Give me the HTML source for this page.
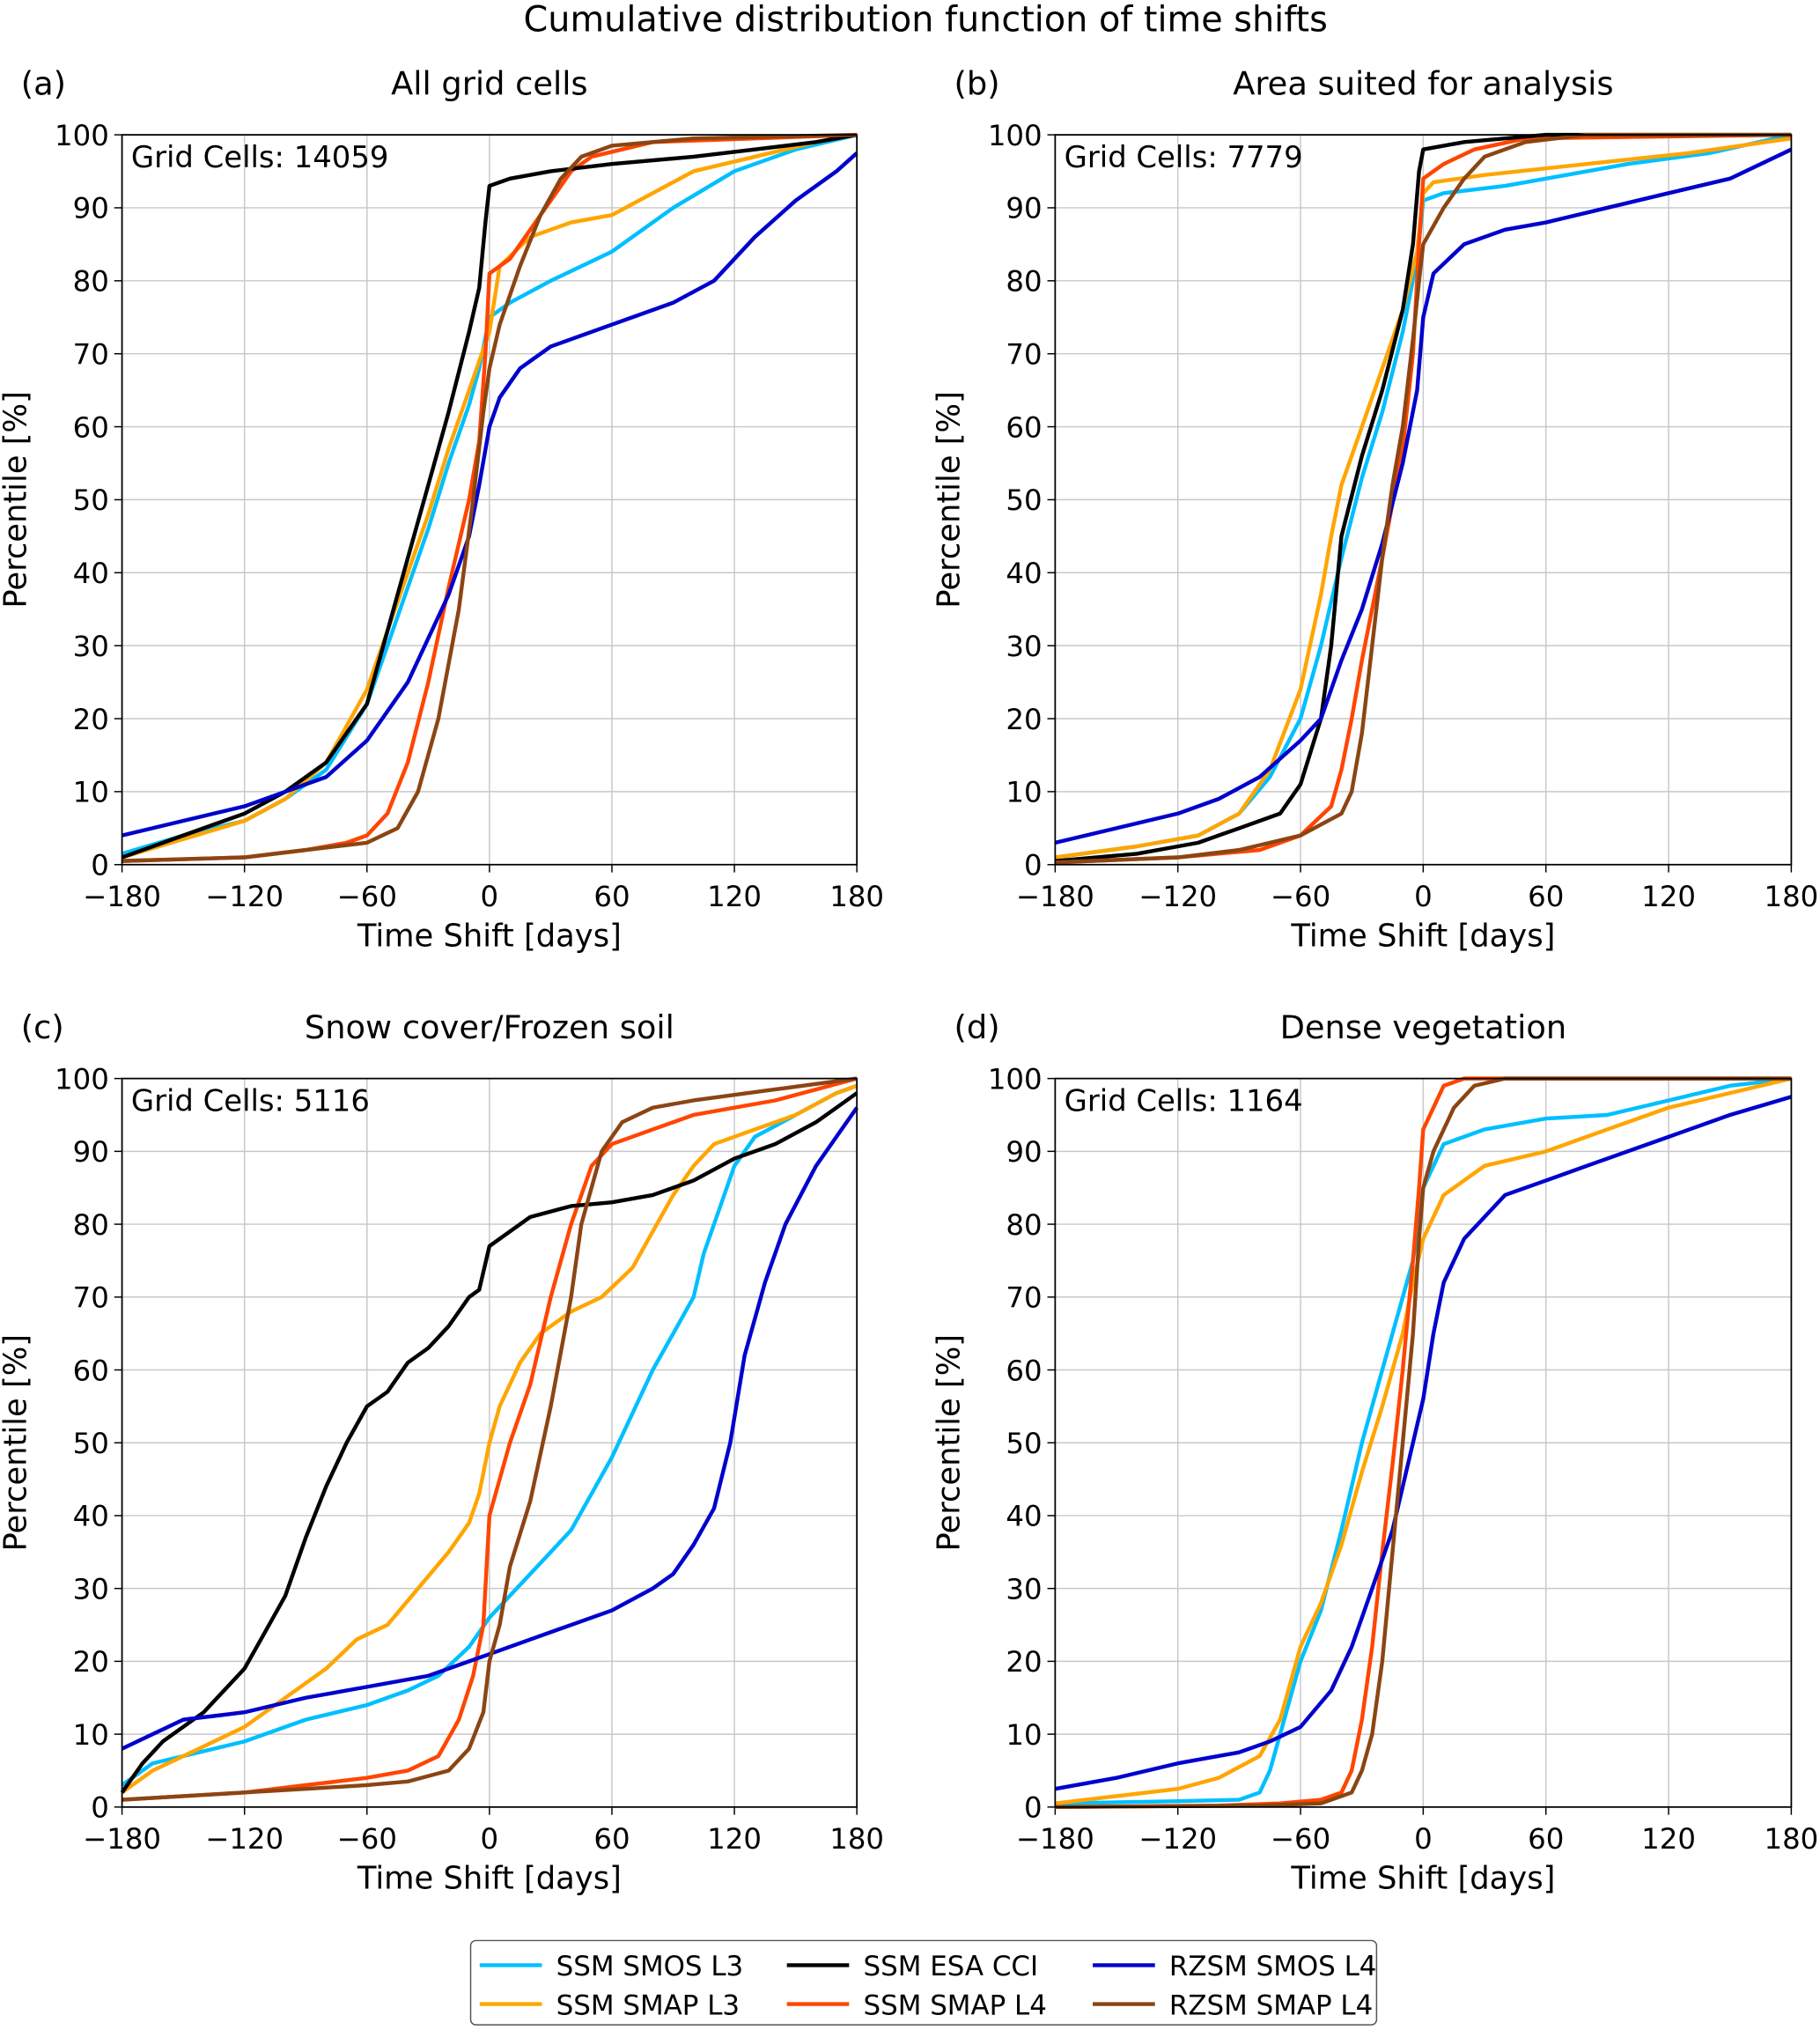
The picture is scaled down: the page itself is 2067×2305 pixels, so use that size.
<!DOCTYPE html>
<html><head><meta charset="utf-8">
<style>
html,body{margin:0;padding:0;background:#fff;}
svg{display:block;font-family:"DejaVu Sans","Liberation Sans",sans-serif;}
</style></head>
<body>
<svg id="fig" xmlns="http://www.w3.org/2000/svg" width="2067" height="2305" viewBox="0 0 1404 1566">
<text x="714" y="24" text-anchor="middle" font-size="27">Cumulative distribution function of time shifts</text>
</svg>
<script>
const xTicks=[-180,-120,-60,0,60,120,180];
const xTickLabels=["\u2212180","\u2212120","\u221260","0","60","120","180"];
const yTicks=[0,10,20,30,40,50,60,70,80,90,100];
const seriesNames=["SSM SMOS L3","SSM SMAP L3","SSM ESA CCI","SSM SMAP L4","RZSM SMOS L4","RZSM SMAP L4"];
const seriesColors=["#00BFFF","#FFA500","#000000","#FF4500","#0000CD","#8B4513"];
const panelLetters=["(a)","(b)","(c)","(d)"];
const panelTitles=["All grid cells","Area suited for analysis","Snow cover/Frozen soil","Dense vegetation"];
const gridCells=[14059,7779,5116,1164];

const aSmosL3=[[-180,1.5],[-150,4],[-120,6],[-100,9],[-80,13],[-60,22],[-50,30],[-40,38],[-30,46],[-20,55],[-10,63],[-5,68],[0,75],[10,77],[30,80],[60,84],[90,90],[120,95],[150,98],[180,100]];
const aSmapL3=[[-180,1],[-150,3.5],[-120,6],[-100,9],[-80,14],[-60,24],[-50,32],[-40,40],[-30,48],[-20,57],[-10,65],[0,73],[5,82],[20,86],[40,88],[60,89],[80,92],[100,95],[130,97],[160,99],[180,100]];
const aEsa=[[-180,1],[-150,4],[-120,7],[-100,10],[-80,14],[-60,22],[-50,32],[-40,42],[-30,52],[-20,62],[-10,73],[-5,79],[-2,88],[0,93],[10,94],[30,95],[60,96],[100,97],[130,98],[160,99],[180,100]];
const aSmapL4=[[-180,0.5],[-120,1],[-90,2],[-70,3],[-60,4],[-50,7],[-40,14],[-30,25],[-20,38],[-10,50],[-5,58],[-2,70],[0,81],[10,83],[20,87],[30,91],[40,95],[50,97],[80,99],[180,100]];
const aRzSmos=[[-180,4],[-150,6],[-120,8],[-100,10],[-80,12],[-60,17],[-40,25],[-20,37],[-10,45],[-5,52],[0,60],[5,64],[15,68],[30,71],[60,74],[90,77],[110,80],[130,86],[150,91],[170,95],[180,97.5]];
const aRzSmap=[[-180,0.5],[-120,1],[-90,2],[-60,3],[-45,5],[-35,10],[-25,20],[-15,35],[-8,50],[-3,62],[0,68],[5,74],[15,82],[25,89],[35,94],[45,97],[60,98.5],[100,99.5],[180,100]];

const bSmosL3=[[-180,1],[-140,2.5],[-110,4],[-90,7],[-75,12],[-60,20],[-50,30],[-40,42],[-30,53],[-20,62],[-10,73],[-3,83],[0,91],[10,92],[40,93],[60,94],[100,96],[140,97.5],[180,100]];
const bSmapL3=[[-180,1],[-140,2.5],[-110,4],[-90,7],[-75,13],[-60,24],[-50,37],[-45,45],[-40,52],[-30,60],[-20,68],[-10,76],[-3,84],[0,92],[5,93.5],[30,94.5],[80,96],[130,97.5],[180,99.5]];
const bEsa=[[-180,0.5],[-140,1.5],[-110,3],[-90,5],[-70,7],[-60,11],[-50,20],[-45,30],[-40,45],[-30,56],[-20,65],[-10,76],[-5,85],[-2,95],[0,98],[20,99],[60,100],[180,100]];
const bSmapL4=[[-180,0.3],[-120,1],[-80,2],[-60,4],[-45,8],[-40,13],[-35,20],[-30,28],[-20,42],[-10,57],[-5,70],[-2,85],[0,94],[10,96],[25,98],[50,99.5],[180,100]];
const bRzSmos=[[-180,3],[-150,5],[-120,7],[-100,9],[-80,12],[-60,17],[-50,20],[-40,28],[-30,35],[-20,44],[-10,55],[-3,65],[0,75],[5,81],[20,85],[40,87],[60,88],[90,90],[120,92],[150,94],[180,98]];
const bRzSmap=[[-180,0.3],[-120,1],[-90,2],[-60,4],[-40,7],[-35,10],[-30,18],[-25,30],[-20,42],[-15,52],[-10,60],[-5,72],[-2,80],[0,85],[10,90],[20,94],[30,97],[50,99],[80,100],[180,100]];

const cSmosL3=[[-180,3],[-165,6],[-150,7],[-120,9],[-90,12],[-60,14],[-40,16],[-25,18],[-10,22],[0,26],[10,29],[20,32],[30,35],[40,38],[50,43],[60,48],[70,54],[80,60],[90,65],[100,70],[105,76],[110,80],[120,88],[130,92],[150,95],[170,98],[180,99]];
const cSmapL3=[[-180,2],[-165,5],[-150,7],[-120,11],[-100,15],[-80,19],[-65,23],[-50,25],[-35,30],[-20,35],[-10,39],[-5,43],[0,50],[5,55],[15,61],[25,65],[40,68],[55,70],[70,74],[80,79],[90,84],[100,88],[110,91],[130,93],[150,95],[170,98],[180,99]];
const cEsa=[[-180,2],[-170,6],[-160,9],[-140,13],[-120,19],[-110,24],[-100,29],[-90,37],[-80,44],[-70,50],[-60,55],[-50,57],[-40,61],[-30,63],[-20,66],[-10,70],[-5,71],[0,77],[10,79],[20,81],[40,82.5],[60,83],[80,84],[100,86],[120,89],[140,91],[160,94],[175,97],[180,98]];
const cSmapL4=[[-180,1],[-150,1.5],[-120,2],[-90,3],[-60,4],[-40,5],[-25,7],[-15,12],[-8,18],[-3,25],[0,40],[10,50],[20,58],[30,70],[40,80],[50,88],[60,91],[80,93],[100,95],[140,97],[180,100]];
const cRzSmos=[[-180,8],[-165,10],[-150,12],[-120,13],[-90,15],[-60,16.5],[-30,18],[-15,19.5],[0,21],[20,23],[40,25],[60,27],[80,30],[90,32],[100,36],[110,41],[118,50],[125,62],[135,72],[145,80],[160,88],[175,94],[180,96]];
const cRzSmap=[[-180,1],[-150,1.5],[-120,2],[-90,2.5],[-60,3],[-40,3.5],[-20,5],[-10,8],[-3,13],[0,20],[5,25],[10,33],[20,42],[30,55],[40,70],[45,80],[55,90],[65,94],[80,96],[100,97],[140,98.5],[180,100]];

const dSmosL3=[[-180,0.5],[-120,0.8],[-90,1],[-80,2],[-75,5],[-70,10],[-60,20],[-50,27],[-40,38],[-30,50],[-20,60],[-10,70],[-5,75],[0,85],[10,91],[30,93],[60,94.5],[90,95],[120,97],[150,99],[180,100]];
const dSmapL3=[[-180,0.5],[-150,1.5],[-120,2.5],[-100,4],[-80,7],[-70,12],[-60,22],[-50,28],[-40,36],[-30,46],[-20,55],[-10,65],[-5,72],[0,78],[10,84],[30,88],[60,90],[90,93],[120,96],[150,98],[180,100]];
const dEsa=[];
const dSmapL4=[[-180,0],[-100,0.2],[-70,0.5],[-50,1],[-40,2],[-35,5],[-30,12],[-25,22],[-20,35],[-15,47],[-10,60],[-5,75],[-2,85],[0,93],[5,96],[10,99],[20,100],[180,100]];
const dRzSmos=[[-180,2.5],[-150,4],[-120,6],[-90,7.5],[-75,9],[-60,11],[-45,16],[-35,22],[-25,30],[-15,38],[-10,44],[-5,50],[0,56],[5,65],[10,72],[20,78],[30,81],[40,84],[60,86],[80,88],[100,90],[120,92],[150,95],[180,97.5]];
const dRzSmap=[[-180,0],[-80,0.2],[-50,0.5],[-35,2],[-30,5],[-25,10],[-20,20],[-15,35],[-10,50],[-5,65],[-2,78],[0,85],[5,90],[15,96],[25,99],[40,100],[180,100]];

const panelSeries=[
 [aSmosL3,aSmapL3,aEsa,aSmapL4,aRzSmos,aRzSmap],
 [bSmosL3,bSmapL3,bEsa,bSmapL4,bRzSmos,bRzSmap],
 [cSmosL3,cSmapL3,cEsa,cSmapL4,cRzSmos,cRzSmap],
 [dSmosL3,dSmapL3,dEsa,dSmapL4,dRzSmos,dRzSmap]];
const drawOrder=[0,1,3,2,4,5];

const NS="http://www.w3.org/2000/svg";
const svg=document.getElementById('fig');
function mk(tag,attrs,parent,txt){const e=document.createElementNS(NS,tag);for(const k in attrs)e.setAttribute(k,attrs[k]);if(txt!==undefined)e.textContent=txt;(parent||svg).appendChild(e);return e;}
const boxes=[{x0:94,x1:661,y0:667,y1:104},{x0:814,x1:1382,y0:667,y1:104},{x0:94,x1:661,y0:1394,y1:832},{x0:814,x1:1382,y0:1394,y1:832}];

boxes.forEach((b,p)=>{
 const sx=v=>b.x0+(v+180)/360*(b.x1-b.x0);
 const sy=v=>b.y0+v/100*(b.y1-b.y0);
 const g=mk('g',{});
 
 
 xTicks.forEach((t,i)=>{
  const gl=mk('line',{x1:sx(t),x2:sx(t),y1:b.y1,y2:b.y0,stroke:'#c8c8c8','stroke-width':1},g);
  
  
  mk('line',{x1:sx(t),x2:sx(t),y1:b.y0,y2:b.y0+6,stroke:'#000','stroke-width':1},g);
  const tl=mk('text',{x:sx(t),y:b.y0+32,'text-anchor':'middle','font-size':22},g,xTickLabels[i]);
  
  
 });
 yTicks.forEach(t=>{
  const gl=mk('line',{x1:b.x0,x2:b.x1,y1:sy(t),y2:sy(t),stroke:'#c8c8c8','stroke-width':1},g);
  
  
  mk('line',{x1:b.x0-6,x2:b.x0,y1:sy(t),y2:sy(t),stroke:'#000','stroke-width':1},g);
  const tl=mk('text',{x:b.x0-10,y:sy(t)+8,'text-anchor':'end','font-size':22},g,String(t));
  
  
 });
 drawOrder.forEach(si=>{
  const d=panelSeries[p][si];
  if(!d.length)return;
  const pl=mk('polyline',{points:d.map(q=>sx(q[0]).toFixed(1)+','+sy(q[1]).toFixed(1)).join(' '),fill:'none',stroke:seriesColors[si],'stroke-width':3,'stroke-linejoin':'round'},g);
  
  
 });
 const fr=mk('rect',{x:b.x0,y:b.y1,width:b.x1-b.x0,height:b.y0-b.y1,fill:'none',stroke:'#000','stroke-width':1.2},g);
 
 
 const gc=mk('text',{x:b.x0+7,y:b.y1+25,'font-size':23},g,'Grid Cells: '+gridCells[p]);
 
 
 const pt=mk('text',{x:(b.x0+b.x1)/2,y:b.y1-31,'text-anchor':'middle','font-size':25},g,panelTitles[p]);
 
 
 const pl2=mk('text',{x:b.x0-78,y:b.y1-31,'font-size':25},g,panelLetters[p]);
 
 
 const xt=mk('text',{x:(b.x0+b.x1)/2,y:b.y0+63,'text-anchor':'middle','font-size':24},g,'Time Shift [days]');
 
 
 const cy=(b.y0+b.y1)/2, cx=b.x0-74;
 const yt=mk('text',{x:cx,y:cy,'text-anchor':'middle','font-size':24,transform:`rotate(-90 ${cx} ${cy})`},g,'Percentile [%]');
 
 
});

const lg=mk('g',{});


mk('rect',{x:363,y:1497,width:699,height:65,rx:4,fill:'#fff',stroke:'#555','stroke-width':1},lg);
const legendCols=[[0,1],[2,3],[4,5]];
const colX=[370,607,843];
legendCols.forEach((col,ci)=>{
 col.forEach((si,ri)=>{
  const y=1516+ri*30;
  const e=mk('g',{},lg);
  
  
  mk('line',{x1:colX[ci],x2:colX[ci]+48,y1:y,y2:y,stroke:seriesColors[si],'stroke-width':3},e);
  mk('text',{x:colX[ci]+59,y:y+8,'font-size':21},e,seriesNames[si]);
 });
});
</script>
</body></html>
